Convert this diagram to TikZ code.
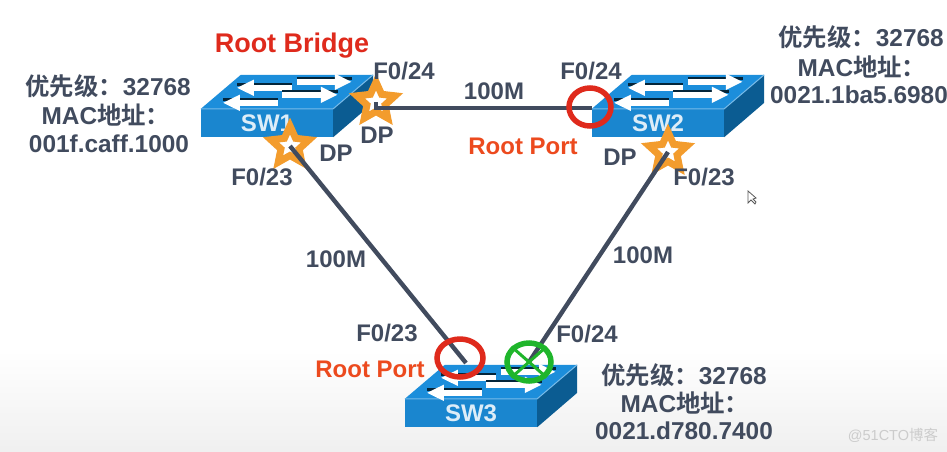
\documentclass[tikz,border=0pt]{standalone}
\usepackage{fontspec}
\setmainfont{Liberation Sans}
\newfontfamily\cjk{Noto Sans CJK SC}[BoldFont={* Bold}]
\usetikzlibrary{shapes.geometric}
\usetikzlibrary{arrows.meta}
\definecolor{swfront}{HTML}{1A86CF}
\definecolor{swtop}{HTML}{1C8EDB}
\definecolor{swside}{HTML}{0B5C92}
\definecolor{txtgray}{HTML}{414B5E}
\definecolor{rootred}{HTML}{EC4A1E}
\definecolor{starorange}{HTML}{F39C2D}
\definecolor{ringred}{HTML}{DF2A1C}
\definecolor{ringgreen}{HTML}{1FB52B}
\tikzset{
  swbox/.style={fill=swfront,minimum width=132pt,minimum height=28pt,inner sep=0pt,
    text=white!85!swfront,font=\fontsize{24}{26}\selectfont\bfseries},
  lbl/.style={text=txtgray,font=\fontsize{24}{26}\selectfont\bfseries,inner sep=0pt},
  info/.style={lbl,font=\fontsize{24.4}{26}\selectfont\bfseries,align=center},
  rootlbl/.style={lbl,text=rootred},
  link/.style={draw=txtgray,line width=4.4pt},
  portstar/.style={star,star points=5,star point ratio=2.1,minimum size=40pt,inner sep=0pt,
    draw=starorange,fill=white,line width=7pt},
  redring/.style={ellipse,draw=ringred,line width=5.5pt,inner sep=0pt},
  greenring/.style={ellipse,draw=ringgreen,line width=5.5pt,inner sep=0pt},
}
% switch body: front node #1 is already placed
\newcommand{\swbody}[1]{
  \fill[swtop] (#1.north west) -- ++(40,-34) -- ++(132,0) -- (#1.north east) -- cycle;
  \fill[swside] (#1.north east) -- ++(40,-34) -- ++(0,28) -- (#1.south east) -- cycle;
  \draw[white!40!swtop,line width=1pt] (#1.north west) -- (#1.north east) -- ++(40,-34);
  \foreach \xa/\xb/\yy in {91/36/-21, 96/151/-27, 77/22/-6, 81/137/-14} {
    \draw[black!60!swside,line width=3pt] ([shift={(\xa,\yy-3.5)}]#1.north west) -- ([shift={(\xb,\yy-3.5)}]#1.north west);
    \draw[white,line width=6pt,-{Triangle[length=17pt,width=15pt]}] ([shift={(\xa,\yy)}]#1.north west) -- ([shift={(\xb,\yy)}]#1.north west);
  }
}
\begin{document}
\begin{tikzpicture}[x=1pt,y=-1pt]
  \useasboundingbox (0,0) rectangle (947,451);
  \clip (0,0) rectangle (947,451);
  \shade[top color=white,bottom color=black!6] (0,350) rectangle (947,451);

  \node[swbox] (sw1) at (267,123) {};
  \node[swbox] (sw2) at (658,123) {};
  \node[swbox] (sw3) at (471,413) {};
  \swbody{sw1}
  \swbody{sw2}
  \swbody{sw3}
  \node[swbox,fill=none] at (sw1) {SW1};
  \node[swbox,fill=none] at (sw2) {SW2};
  \node[swbox,fill=none] at (sw3) {SW3};

  \node[portstar] (dp1) at (376,102) {};
  \node[portstar] (dp2) at (290,146) {};
  \node[portstar] (dp3) at (668,152) {};

  \coordinate (rp2) at (592,108);
  \coordinate (rp3) at (466,363);
  \coordinate (bp3) at (529,362);
  \draw[link] (dp1.center) -- (dp1.center |- rp2) -- (rp2);
  \draw[link] (dp2.center) -- (rp3);
  \draw[link] (dp3.center) -- (bp3);

  \node[redring,minimum width=42pt,minimum height=38pt] (ring2) at (590,107) {};
  \node[redring,minimum width=46pt,minimum height=38pt] (ring3) at (460,358) {};
  \node[greenring,minimum width=44pt,minimum height=38pt] (ring4) at (529,362) {};
  \draw[ringgreen,line width=3pt] (ring4.north west) -- (ring4.south east);
  \draw[ringgreen,line width=3pt] (ring4.north east) -- (ring4.south west);

  \node[lbl,text=ringred,font=\fontsize{27}{29}\selectfont\bfseries] (rootb) at (292,46) {Root Bridge};
  \node[lbl] (a1) at (404,71) {F0/24};
  \node[lbl] (a2) at (377,135) {DP};
  \node[lbl] (a3) at (336,153) {DP};
  \node[lbl] (a4) at (262,177) {F0/23};
  \node[lbl] (a5) at (494,91) {100M};
  \node[lbl] (a6) at (591,71) {F0/24};
  \node[rootlbl] (a7) at (523,146) {Root Port};
  \node[lbl] (a8) at (620,157) {DP};
  \node[lbl] (a9) at (704,177) {F0/23};
  \node[lbl] (a10) at (336,259) {100M};
  \node[lbl] (a11) at (643,255) {100M};
  \node[lbl] (a12) at (387,333) {F0/23};
  \node[rootlbl] (a13) at (370,369) {Root Port};
  \node[lbl] (a14) at (587,334) {F0/24};

  \node[info] (info1a) at (108,86) {{\cjk 优先级：}32768};
  \node[info] (info1b) at (106,115) {MAC{\cjk 地址：}};
  \node[info] (info1c) at (109,144) {001f.caff.1000};
  \node[info] (info2a) at (861,37) {{\cjk 优先级：}32768};
  \node[info] (info2b) at (862,67) {MAC{\cjk 地址：}};
  \node[info] (info2c) at (859,95) {0021.1ba5.6980};
  \node[info] (info3a) at (684,375) {{\cjk 优先级：}32768};
  \node[info] (info3b) at (685,403) {MAC{\cjk 地址：}};
  \node[info] (info3c) at (684,431) {0021.d780.7400};

  \node[text=black!20,font=\fontsize{14.5}{16}\selectfont,inner sep=0pt] (mark) at (893,435) {@51CTO{\cjk 博客}};
  % mouse pointer
  \draw[black!65,fill=white,line width=0.8pt] (748,191) -- (748,203) -- (751,200) -- (755,204) -- (756,202) -- (753,199) -- (756,198) -- cycle;
\end{tikzpicture}
\end{document}
